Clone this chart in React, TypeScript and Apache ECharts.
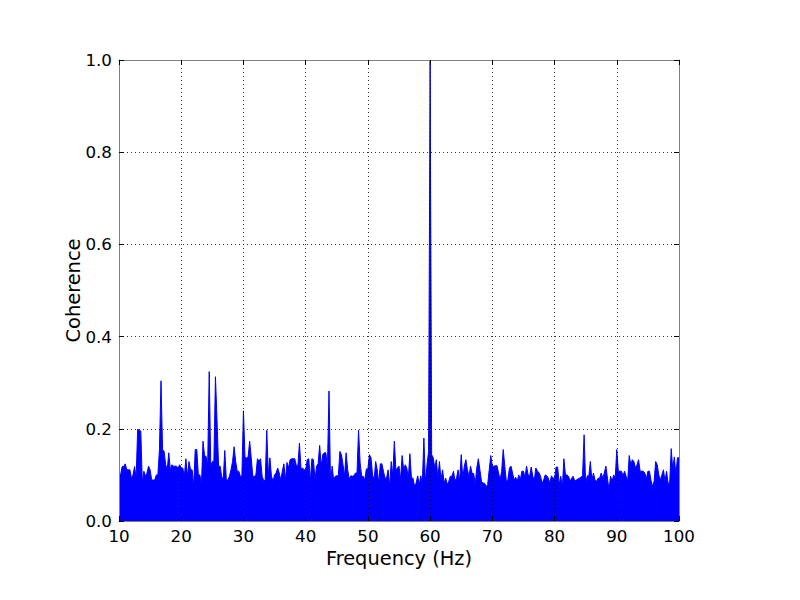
import React, { useEffect, useRef } from "react";
import * as echarts from "echarts";

// Sample grid of the coherence estimate (Hz)
const START_HZ = 10;
const STEP_HZ = 0.25;

// Coherence (upper envelope), 10 – 39.75 Hz
const coh10to40: number[] = [
  0.100, 0.100, 0.118, 0.118, 0.124, 0.111, 0.111, 0.111, 0.093, 0.100,
  0.118, 0.093, 0.199, 0.197, 0.195, 0.082, 0.108, 0.097, 0.104, 0.119,
  0.111, 0.089, 0.089, 0.089, 0.100, 0.100, 0.155, 0.304, 0.155, 0.151,
  0.122, 0.111, 0.148, 0.111, 0.122, 0.119, 0.119, 0.119, 0.115, 0.122,
  0.115, 0.115, 0.097, 0.135, 0.097, 0.129, 0.111, 0.111, 0.075, 0.155,
  0.155, 0.100, 0.100, 0.079, 0.173, 0.142, 0.140, 0.120, 0.324, 0.119,
  0.129, 0.129, 0.313, 0.220, 0.119, 0.119, 0.097, 0.089, 0.153, 0.089,
  0.089, 0.097, 0.111, 0.129, 0.161, 0.129, 0.108, 0.108, 0.097, 0.097,
  0.239, 0.137, 0.137, 0.139, 0.173, 0.137, 0.097, 0.097, 0.100, 0.135,
  0.130, 0.135, 0.097, 0.088, 0.088, 0.197, 0.100, 0.137, 0.097, 0.086,
  0.100, 0.104, 0.115, 0.104, 0.089, 0.108, 0.124, 0.089, 0.127, 0.115,
  0.133, 0.135, 0.135, 0.135, 0.120, 0.120, 0.169, 0.113, 0.115, 0.111,
];

// 40 – 69.75 Hz
const coh40to70: number[] = [
  0.111, 0.133, 0.135, 0.086, 0.135, 0.133, 0.089, 0.119, 0.124, 0.164,
  0.119, 0.144, 0.148, 0.148, 0.115, 0.282, 0.079, 0.119, 0.089, 0.097,
  0.098, 0.098, 0.151, 0.144, 0.122, 0.097, 0.148, 0.111, 0.091, 0.098,
  0.097, 0.098, 0.104, 0.104, 0.197, 0.126, 0.097, 0.097, 0.089, 0.113,
  0.113, 0.144, 0.137, 0.100, 0.089, 0.129, 0.111, 0.082, 0.124, 0.124,
  0.108, 0.093, 0.093, 0.111, 0.075, 0.129, 0.098, 0.173, 0.111, 0.115,
  0.119, 0.089, 0.142, 0.111, 0.122, 0.115, 0.093, 0.146, 0.093, 0.093,
  0.075, 0.082, 0.098, 0.079, 0.098, 0.082, 0.180, 0.082, 0.122, 0.151,
  1.000, 0.144, 0.137, 0.115, 0.133, 0.093, 0.129, 0.089, 0.111, 0.082,
  0.093, 0.079, 0.086, 0.097, 0.097, 0.108, 0.088, 0.093, 0.111, 0.087,
  0.144, 0.093, 0.119, 0.133, 0.111, 0.097, 0.119, 0.103, 0.103, 0.079,
  0.115, 0.135, 0.111, 0.086, 0.082, 0.082, 0.075, 0.079, 0.111, 0.142,
];

// 70 – 100 Hz
const coh70to100: number[] = [
  0.119, 0.119, 0.120, 0.120, 0.104, 0.089, 0.108, 0.155, 0.119, 0.086,
  0.089, 0.115, 0.119, 0.104, 0.089, 0.095, 0.086, 0.100, 0.089, 0.108,
  0.108, 0.095, 0.119, 0.100, 0.098, 0.117, 0.097, 0.089, 0.115, 0.108,
  0.105, 0.097, 0.082, 0.089, 0.100, 0.098, 0.093, 0.082, 0.098, 0.093,
  0.093, 0.117, 0.117, 0.079, 0.097, 0.071, 0.135, 0.100, 0.100, 0.097,
  0.086, 0.093, 0.097, 0.086, 0.089, 0.091, 0.093, 0.095, 0.098, 0.187,
  0.079, 0.098, 0.097, 0.129, 0.088, 0.104, 0.089, 0.086, 0.093, 0.093,
  0.104, 0.093, 0.104, 0.119, 0.093, 0.068, 0.097, 0.086, 0.100, 0.093,
  0.155, 0.108, 0.108, 0.108, 0.098, 0.108, 0.097, 0.086, 0.142, 0.122,
  0.133, 0.129, 0.115, 0.122, 0.133, 0.108, 0.108, 0.108, 0.104, 0.091,
  0.108, 0.108, 0.088, 0.075, 0.086, 0.129, 0.122, 0.100, 0.089, 0.100,
  0.111, 0.086, 0.108, 0.082, 0.082, 0.157, 0.111, 0.139, 0.100, 0.137,
  0.137,
];

const X_MIN = 10;
const X_MAX = 100;
const X_STEP = 10;
const Y_MIN = 0;
const Y_MAX = 1;
const Y_STEP = 0.2;

const X_TITLE = "Frequency (Hz)";
const Y_TITLE = "Coherence";

const FONT = "DejaVu Sans";

export default function App() {
  const ref = useRef<HTMLDivElement>(null);

  useEffect(() => {
    if (!ref.current) return;
    const chart = echarts.init(ref.current, undefined, { renderer: "svg" });

    const values = [...coh10to40, ...coh40to70, ...coh70to100];
    const points = values.map((v, i) => [START_HZ + i * STEP_HZ, v]);

    const frameColor = "#808080";
    const tick = { show: true, inside: true, length: 5, lineStyle: { color: "#000", width: 1 } };
    const grid = {
      show: true,
      showMinLine: false,
      showMaxLine: false,
      lineStyle: { color: "#000", width: 0.8, type: [1, 3] as number[] },
    };
    const label = { color: "#000", fontSize: 16.7, fontFamily: FONT };

    chart.setOption({
      animation: false,
      backgroundColor: "#fff",
      grid: { left: 119, right: 121, top: 60, bottom: 79, show: false },
      xAxis: [
        {
          type: "value",
          position: "bottom",
          min: X_MIN,
          max: X_MAX,
          interval: X_STEP,
          z: 3,
          axisLine: { show: true, onZero: false, lineStyle: { color: frameColor, width: 1 } },
          axisTick: tick,
          axisLabel: { ...label, margin: 6 },
          splitLine: grid,
          name: X_TITLE,
          nameLocation: "middle",
          nameGap: 27,
          nameTextStyle: { color: "#000", fontSize: 19.4, fontFamily: FONT },
        },
        {
          type: "value",
          position: "top",
          min: X_MIN,
          max: X_MAX,
          interval: X_STEP,
          z: 3,
          axisLine: { show: true, onZero: false, lineStyle: { color: frameColor, width: 1 } },
          axisTick: tick,
          axisLabel: { show: false },
          splitLine: { show: false },
        },
      ],
      yAxis: [
        {
          type: "value",
          position: "left",
          min: Y_MIN,
          max: Y_MAX,
          interval: Y_STEP,
          z: 3,
          axisLine: { show: true, onZero: false, lineStyle: { color: frameColor, width: 1 } },
          axisTick: tick,
          axisLabel: { ...label, margin: 7, formatter: (v: number) => v.toFixed(1) },
          splitLine: grid,
          name: Y_TITLE,
          nameLocation: "middle",
          nameGap: 36,
          nameMoveOverlap: false,
          nameRotate: 90,
          nameTextStyle: { color: "#000", fontSize: 19.4, fontFamily: FONT },
        },
        {
          type: "value",
          position: "right",
          min: Y_MIN,
          max: Y_MAX,
          interval: Y_STEP,
          z: 3,
          axisLine: { show: true, onZero: false, lineStyle: { color: frameColor, width: 1 } },
          axisTick: tick,
          axisLabel: { show: false },
          splitLine: { show: false },
        },
      ],
      series: [
        {
          type: "line",
          xAxisIndex: 0,
          yAxisIndex: 0,
          data: points,
          symbol: "none",
          showSymbol: false,
          silent: true,
          z: 1,
          lineStyle: { color: "#0000ff", width: 1 },
          areaStyle: { color: "#0000ff", opacity: 1, origin: "start" },
        },
      ],
    });

    return () => chart.dispose();
  }, []);

  return (
    <div
      ref={ref}
      style={{ position: "absolute", left: 0, top: 0, width: 800, height: 600, background: "#fff" }}
    />
  );
}
